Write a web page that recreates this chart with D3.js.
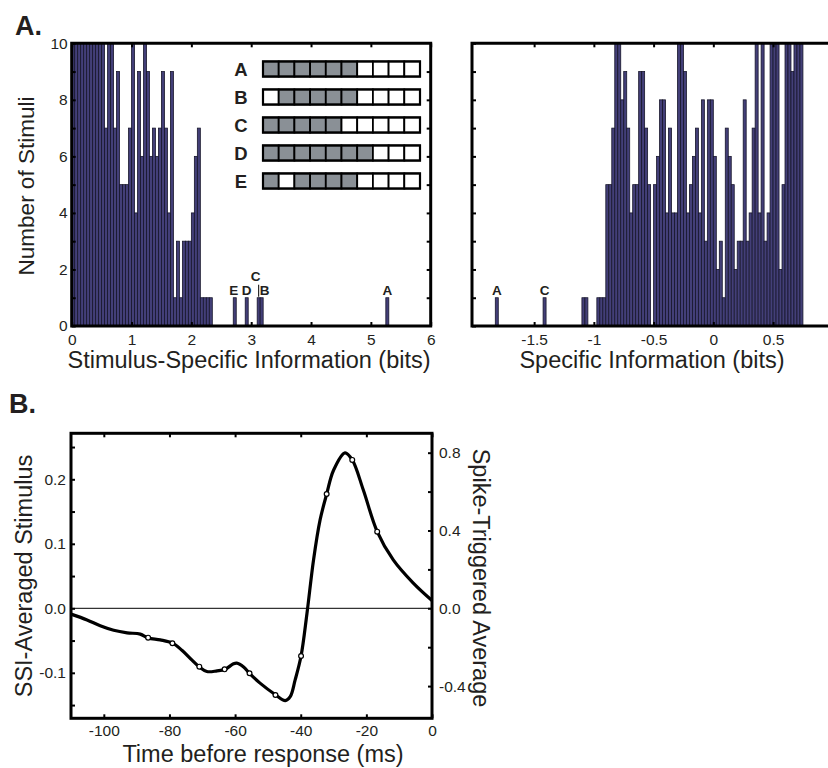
<!DOCTYPE html>
<html>
<head>
<meta charset="utf-8">
<script src="https://cdn.jsdelivr.net/npm/d3@7"></script>
<style>
    body { margin: 0; background: #fff; }
    svg text { font-family: "Liberation Sans", Arial, Helvetica, sans-serif; fill: #231f20; }
</style>
</head>
<body>
<div id="chart"></div>
<script>
// ---- Panel A, left: stimulus-specific information histogram (0.05 bit bins from 0)
const ssiBinWidth = 0.05;
const ssiCounts = [10, 10, 10, 10, 10, 10, 10, 10, 10, 10, 10, 7, 10, 10, 7, 9, 5, 5, 5, 7,
    10, 4, 9, 6, 10, 9, 6, 7, 6, 7, 9, 7, 4, 9, 1, 3, 1, 3, 3, 3, 4, 6, 7, 1, 1, 1, 1];
const ssiMarked = [
    { id: "E", x0: 2.70, count: 1 },
    { id: "D", x0: 2.90, count: 1 },
    { id: "C", x0: 3.10, count: 1 },
    { id: "B", x0: 3.15, count: 1 },
    { id: "A", x0: 5.25, count: 1 }
];
const ssiTicks = [0, 1, 2, 3, 4, 5, 6];

// ---- Panel A, right: specific information histogram (0.025 bit bins from -1.1)
const siBinStart = -1.1;
const siBinWidth = 0.025;
const siCounts = [1, 1, 0, 0, 0, 1, 1, 1, 5, 5, 7, 10, 10, 8, 9, 7, 4, 5, 5, 9,
    9, 7, 5, 0, 5, 6, 8, 8, 4, 7, 4, 4, 10, 10, 9, 4, 5, 6, 7, 4,
    8, 3, 8, 8, 6, 2, 3, 1, 7, 6, 5, 2, 3, 3, 8, 3, 4, 7, 10, 4,
    10, 3, 4, 10, 10, 10, 2, 5, 10, 10, 9, 10, 10, 10];
const siMarked = [
    { id: "A", x0: -1.825, count: 1 },
    { id: "C", x0: -1.425, count: 1 }
];
const siTicks = [-1.5, -1, -0.5, 0, 0.5];

// ---- Inset: stimulus patterns (1 = grey square)
const patternIds = ["A", "B", "C", "D", "E"];
const patterns = [
    [1, 1, 1, 1, 1, 1, 0, 0, 0, 0],
    [0, 1, 1, 1, 1, 1, 0, 0, 0, 0],
    [1, 1, 1, 1, 1, 0, 0, 0, 0, 0],
    [1, 1, 1, 1, 1, 1, 1, 0, 0, 0],
    [1, 0, 1, 1, 1, 1, 0, 0, 0, 0]
];

// ---- Panel B: SSI-averaged stimulus (line) and spike-triggered average (circles)
const timeMs = [-110, -105.1, -101.1, -97, -92.9, -88.9, -86.5, -82.8, -79.1, -76.2, -73.2, -70.9,
    -68.6, -65.5, -63.2, -60.5, -59.5, -57.4, -55.6, -52.4, -47.7, -44.7, -43.2, -41.7, -39.9,
    -38.1, -36.1, -34.1, -32.1, -30, -26.5, -24.3, -20.9, -16.7, -11.8, -5.7, 0];
const ssiAvg = [-0.009, -0.018, -0.027, -0.034, -0.038, -0.040, -0.046, -0.049, -0.054, -0.065, -0.080, -0.091,
    -0.098, -0.097, -0.095, -0.086, -0.085, -0.091, -0.101, -0.116, -0.134, -0.143, -0.137, -0.111, -0.074,
    -0.008, 0.075, 0.137, 0.177, 0.214, 0.241, 0.230, 0.183, 0.119, 0.075, 0.039, 0.012];
const staTime = [-86.5, -79.1, -70.9, -63.2, -55.6, -47.7, -39.9, -32.1, -24.3, -16.7];
const staValue = [-0.151, -0.180, -0.300, -0.314, -0.334, -0.446, -0.245, 0.588, 0.763, 0.394];
const timeTicks = [-100, -80, -60, -40, -20, 0];
const ssiAxisTicks = [-0.1, 0.0, 0.1, 0.2];
const staAxisTicks = [-0.4, 0.0, 0.4, 0.8];

const barFill = "#433f78";
const barStroke = "#17162b";
const greyFill = "#8a9096";
const titleSize = "23.5px";

const svg = d3.select("#chart").append("svg")
    .attr("width", 828)
    .attr("height", 768);

// plain hyphen minus, like the original figure
const plain = d => String(d);
const oneDecimal = d => d.toFixed(1);

// inward ticks on both sides of a box, MATLAB style
function tickAxis(g, axis) {
    g.call(axis);
    g.select(".domain").remove();
    g.selectAll(".tick line").attr("stroke", "#000").attr("stroke-width", 2);
    g.selectAll(".tick text").style("font-size", "15.5px").attr("fill", "#231f20");
    return g;
}

function histogram(opts) {
    const x = d3.scaleLinear().domain(opts.xDomain).range(opts.xRange);
    const y = d3.scaleLinear().domain([0, 10]).range([326, 43.3]);
    const g = svg.append("g");

    const clipId = opts.name + "-clip";
    g.append("clipPath").attr("id", clipId).append("rect")
        .attr("x", opts.xRange[0]).attr("y", 43.3)
        .attr("width", opts.xRange[1] - opts.xRange[0]).attr("height", 326 - 43.3);

    const bins = opts.counts.map((c, i) => ({ x0: opts.start + i * opts.width, count: c }))
        .concat(opts.marked);

    g.append("g").attr("clip-path", `url(#${clipId})`)
        .selectAll("rect")
        .data(bins.filter(d => d.count > 0))
        .enter()
        .append("rect")
        .attr("x", d => x(d.x0))
        .attr("width", d => x(d.x0 + opts.width) - x(d.x0))
        .attr("y", d => y(Math.min(d.count, 10)))
        .attr("height", d => y(0) - y(Math.min(d.count, 10)))
        .attr("fill", barFill)
        .attr("stroke", barStroke)
        .attr("stroke-width", 0.8);

    // ticks
    tickAxis(g.append("g").attr("transform", `translate(0,${y(0)})`),
        d3.axisBottom(x).tickValues(opts.ticks).tickSizeInner(-4).tickSizeOuter(0).tickPadding(8)
            .tickFormat(plain));
    tickAxis(g.append("g").attr("transform", `translate(0,${y(10)})`),
        d3.axisTop(x).tickValues(opts.ticks).tickSizeInner(-4).tickSizeOuter(0).tickFormat(""));
    tickAxis(g.append("g").attr("transform", `translate(${opts.xRange[0]},0)`),
        d3.axisLeft(y).tickValues(d3.range(0, 11)).tickSizeInner(-4).tickSizeOuter(0).tickPadding(4)
            .tickFormat(d => opts.yLabels && d % 2 === 0 ? d : ""));
    if (opts.rightTicks) {
        tickAxis(g.append("g").attr("transform", `translate(${opts.xRange[1]},0)`),
            d3.axisRight(y).tickValues(d3.range(1, 10)).tickSizeInner(-4).tickSizeOuter(0).tickFormat(""));
    }

    // frame
    const x0 = opts.xRange[0], x1 = opts.xRange[1];
    const framePath = opts.rightTicks
        ? `M${x0},${y(10)}H${x1}V${y(0)}H${x0}Z`
        : `M${x1},${y(10)}H${x0}V${y(0)}H${x1}`;
    g.append("path").attr("d", framePath)
        .attr("fill", "none").attr("stroke", "#000").attr("stroke-width", 3);

    // letters over the marked stimuli
    g.selectAll(".mark-label")
        .data(opts.marked)
        .enter()
        .append("text")
        .attr("class", "mark-label")
        .attr("x", d => x(d.x0 + opts.width / 2) + (d.dx || 0))
        .attr("y", d => y(d.count) - 3 - (d.lift || 0))
        .attr("text-anchor", "middle")
        .style("font-size", "13.5px")
        .style("font-weight", "bold")
        .text(d => d.id);

    // x title
    g.append("text")
        .attr("x", opts.titleX)
        .attr("y", 368)
        .attr("text-anchor", "middle")
        .style("font-size", titleSize)
        .text(opts.title);

    return { x, y, g };
}

// ---- left histogram
ssiMarked.find(d => d.id === "C").lift = 14;
ssiMarked.find(d => d.id === "C").dx = -3;
ssiMarked.find(d => d.id === "B").dx = 3;
ssiMarked.find(d => d.id === "E").dx = -1;
const left = histogram({
    name: "ssi", xDomain: [0, 6], xRange: [71.7, 430.7], start: 0, width: ssiBinWidth,
    counts: ssiCounts, marked: ssiMarked, ticks: ssiTicks, yLabels: true, rightTicks: true,
    title: "Stimulus-Specific Information (bits)", titleX: 249
});

// leader line from the raised "C" down to its bar
const cBar = ssiMarked.find(d => d.id === "C");
left.g.append("line")
    .attr("x1", left.x(cBar.x0 + ssiBinWidth / 2)).attr("x2", left.x(cBar.x0 + ssiBinWidth / 2))
    .attr("y1", left.y(1) - 13).attr("y2", left.y(1) - 1)
    .attr("stroke", "#000").attr("stroke-width", 1);

left.g.append("text")
    .attr("transform", `translate(26,186) rotate(-90)`)
    .attr("text-anchor", "middle")
    .attr("dy", "0.35em")
    .style("font-size", "22.5px")
    .text("Number of Stimuli");

// ---- right histogram
histogram({
    name: "si", xDomain: [-2.02, 1], xRange: [472, 832.8], start: siBinStart, width: siBinWidth,
    counts: siCounts, marked: siMarked, ticks: siTicks, yLabels: false, rightTicks: false,
    title: "Specific Information (bits)", titleX: 652
});

// ---- inset of stimulus patterns
const col = d3.scaleBand().domain(d3.range(10)).range([263, 420]);
const row = d3.scaleBand().domain(patternIds).range([55, 195]).paddingInner(0.46).paddingOuter(0.23);
const inset = svg.append("g");
patternIds.forEach((id, r) => {
    inset.append("text")
        .attr("x", 241).attr("y", row(id) + row.bandwidth() / 2)
        .attr("dy", "0.36em")
        .attr("text-anchor", "middle")
        .style("font-size", "18.5px").style("font-weight", "bold")
        .text(id);
    inset.selectAll(null)
        .data(patterns[r])
        .enter()
        .append("rect")
        .attr("x", (d, i) => col(i))
        .attr("y", row(id))
        .attr("width", col.bandwidth())
        .attr("height", row.bandwidth())
        .attr("fill", d => d ? greyFill : "#fff")
        .attr("stroke", "#000")
        .attr("stroke-width", 1.8);
    inset.append("rect")
        .attr("x", col(0)).attr("y", row(id))
        .attr("width", col(9) + col.bandwidth() - col(0)).attr("height", row.bandwidth())
        .attr("fill", "none").attr("stroke", "#000").attr("stroke-width", 2.2);
});

// ---- panel B
const tx = d3.scaleLinear().domain([-110, 0]).range([71, 432]);
const yL = d3.scaleLinear().domain([-0.1705, 0.2713]).range([718.3, 433.3]);
const yR = d3.scaleLinear().domain([-0.5656, 0.8997]).range([718.3, 433.3]);
const b = svg.append("g");

b.append("line")
    .attr("x1", tx(-110)).attr("x2", tx(0))
    .attr("y1", yL(0)).attr("y2", yL(0))
    .attr("stroke", "#000").attr("stroke-width", 1);

tickAxis(b.append("g").attr("transform", `translate(0,${yL.range()[0]})`),
    d3.axisBottom(tx).tickValues(timeTicks).tickSizeInner(-4).tickSizeOuter(0).tickPadding(7)
        .tickFormat(plain));
tickAxis(b.append("g").attr("transform", `translate(0,${yL.range()[1]})`),
    d3.axisTop(tx).tickValues(timeTicks).tickSizeInner(-4).tickSizeOuter(0).tickFormat(""));
tickAxis(b.append("g").attr("transform", `translate(${tx(-110)},0)`),
    d3.axisLeft(yL).tickValues([-0.15, -0.1, -0.05, 0, 0.05, 0.1, 0.15, 0.2, 0.25])
        .tickSizeInner(-4).tickSizeOuter(0).tickPadding(5)
        .tickFormat(d => ssiAxisTicks.some(t => Math.abs(t - d) < 1e-9) ? oneDecimal(d) : ""));
tickAxis(b.append("g").attr("transform", `translate(${tx(0)},0)`),
    d3.axisRight(yR).tickValues([-0.4, -0.2, 0, 0.2, 0.4, 0.6, 0.8])
        .tickSizeInner(-4).tickSizeOuter(0).tickPadding(7)
        .tickFormat(d => staAxisTicks.some(t => Math.abs(t - d) < 1e-9) ? oneDecimal(d) : ""));

b.append("rect")
    .attr("x", tx(-110)).attr("y", yL.range()[1])
    .attr("width", tx(0) - tx(-110)).attr("height", yL.range()[0] - yL.range()[1])
    .attr("fill", "none").attr("stroke", "#000").attr("stroke-width", 3);

const line = d3.line()
    .x((d, i) => tx(timeMs[i]))
    .y(d => yL(d))
    .curve(d3.curveCatmullRom.alpha(0.5));

b.append("path")
    .datum(ssiAvg)
    .attr("d", line)
    .attr("fill", "none")
    .attr("stroke", "#000")
    .attr("stroke-width", 3.2);

b.selectAll(".sta")
    .data(staValue)
    .enter()
    .append("circle")
    .attr("class", "sta")
    .attr("cx", (d, i) => tx(staTime[i]))
    .attr("cy", d => yR(d))
    .attr("r", 2.4)
    .attr("fill", "#fff")
    .attr("stroke", "#000")
    .attr("stroke-width", 1.2);

b.append("text")
    .attr("x", 263).attr("y", 762)
    .attr("text-anchor", "middle")
    .style("font-size", titleSize)
    .text("Time before response (ms)");

b.append("text")
    .attr("transform", "translate(24,576) rotate(-90)")
    .attr("text-anchor", "middle")
    .attr("dy", "0.35em")
    .style("font-size", titleSize)
    .text("SSI-Averaged Stimulus");

b.append("text")
    .attr("transform", "translate(481,578) rotate(90)")
    .attr("text-anchor", "middle")
    .attr("dy", "0.35em")
    .style("font-size", titleSize)
    .text("Spike-Triggered Average");

// panel letters
svg.append("text").attr("x", 15).attr("y", 35)
    .style("font-size", "27px").style("font-weight", "bold").text("A.");
svg.append("text").attr("x", 9).attr("y", 413)
    .style("font-size", "27px").style("font-weight", "bold").text("B.");
</script>
</body>
</html>
